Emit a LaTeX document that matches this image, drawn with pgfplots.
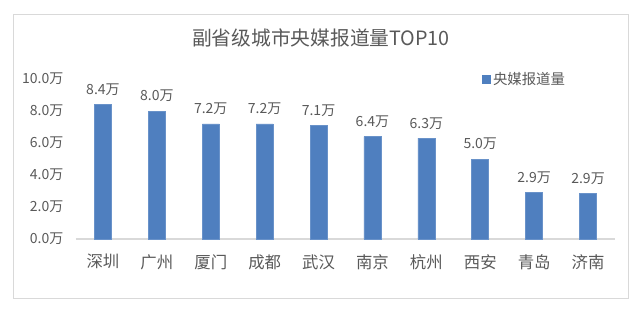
\documentclass[border=0pt]{standalone}
\usepackage{fontspec}
\setmainfont{Noto Sans CJK SC}
\usepackage{pgfplots}
\pgfplotsset{compat=1.18}
\definecolor{barblue}{HTML}{4F7FBF}
\definecolor{txt}{HTML}{595959}
\definecolor{framec}{HTML}{D9D9D9}
\begin{document}
\begin{tikzpicture}[x=0.75pt,y=0.75pt]
\path[use as bounding box] (0,0) rectangle (640,315);
\draw[framec, line width=0.75pt] (13,17) rectangle (628,300);
\node[txt, font=\fontsize{14.8}{16}\selectfont] at (321,277) {副省级城市央媒报道量TOP10};
\begin{axis}[
  at={(57pt,57pt)}, anchor=south west,
  width=404.25pt, height=120pt, scale only axis,
  ymin=0, ymax=10, xmin=-0.5, xmax=9.5,
  ytick={0,2,4,6,8,10},
  xtick=data,
  xticklabels={深圳,广州,厦门,成都,武汉,南京,杭州,西安,青岛,济南},
  axis x line*=bottom, axis y line*=left,
  x axis line style={framec, line width=0.8pt, -},
  y axis line style={draw=none},
  major tick length=0pt,
  ytick style={draw=none}, xtick style={draw=none},
  /pgf/number format/assume math mode=true,
  yticklabel={\pgfmathprintnumber[fixed,fixed zerofill,precision=1]{\tick}万},
  yticklabel style={txt, font=\fontsize{10.5}{12}\selectfont, xshift=-6pt},
  xticklabel style={txt, font=\fontsize{12.3}{14}\selectfont, yshift=-8pt},
  ybar, bar width=12.75pt,
  nodes near coords={\pgfmathprintnumber[fixed,fixed zerofill,precision=1]{\pgfplotspointmeta}万},
  every node near coord/.append style={txt, font=\fontsize{10.5}{12}\selectfont, inner sep=0pt, yshift=6.5pt},
  legend style={at={(rel axis cs:0.745,1.0)}, anchor=west, draw=none, fill=none,
    font=\fontsize{10.8}{12}\selectfont, text=txt},
  legend image code/.code={\fill[barblue] (0pt,-3pt) rectangle (6pt,3pt);},
  clip=false,
]
\addplot[fill=barblue, draw=barblue!85!white] coordinates {
 (0,8.4) (1,8.0) (2,7.2) (3,7.2) (4,7.1) (5,6.4) (6,6.3) (7,5.0) (8,2.89) (9,2.86)
};
\addlegendentry{央媒报道量}
\end{axis}
\end{tikzpicture}
\end{document}
